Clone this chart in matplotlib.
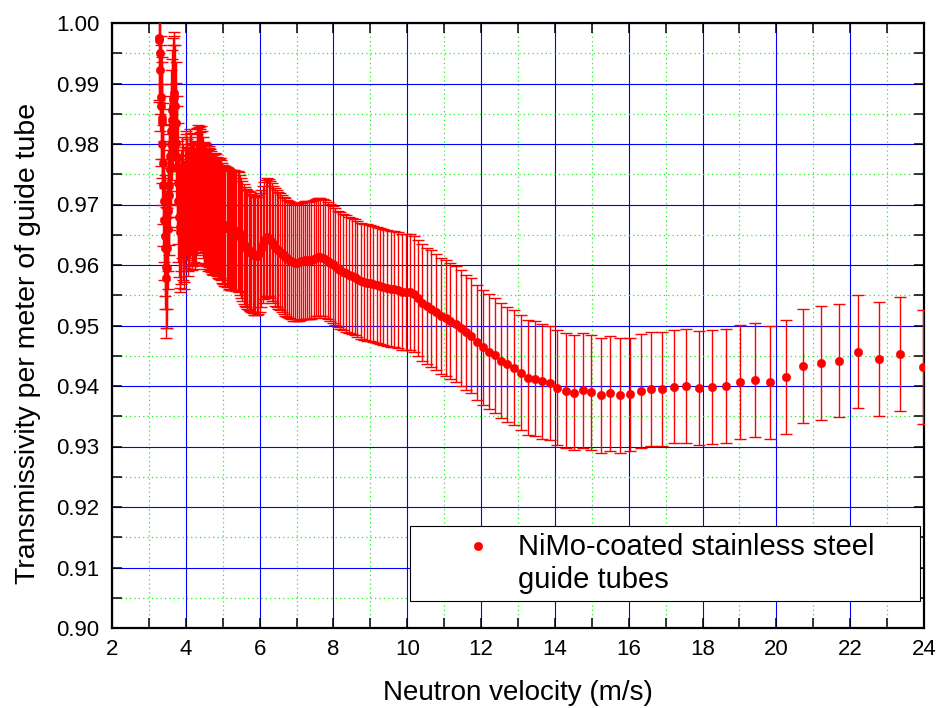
import matplotlib
matplotlib.use('Agg')
import matplotlib.pyplot as plt
from matplotlib.lines import Line2D
from matplotlib.ticker import MultipleLocator

plt.rcParams['font.family'] = ['Liberation Sans', 'DejaVu Sans']

# Neutron velocity (m/s), one value per time-of-flight bin
velocity = [
    3.272, 3.284, 3.295, 3.307, 3.319, 3.331, 3.343, 3.355, 3.368, 3.380, 3.392, 3.405, 3.418, 3.430, 3.443, 3.456,
    3.469, 3.482, 3.495, 3.509, 3.522, 3.536, 3.549, 3.563, 3.577, 3.591, 3.605, 3.619, 3.633, 3.648, 3.662, 3.677,
    3.692, 3.706, 3.722, 3.737, 3.752, 3.767, 3.783, 3.798, 3.814,
    3.830, 3.846, 3.862, 3.878, 3.895, 3.911, 3.928, 3.945, 3.962, 3.979, 3.996, 4.013, 4.031, 4.049, 4.067, 4.085,
    4.103, 4.121, 4.140, 4.158, 4.177, 4.196, 4.216, 4.235, 4.254, 4.274, 4.294, 4.314, 4.335, 4.355, 4.376, 4.397,
    4.418, 4.439, 4.461, 4.482, 4.504, 4.526, 4.549, 4.571, 4.594,
    4.617, 4.640, 4.664, 4.688, 4.712, 4.736, 4.760, 4.785, 4.810, 4.835, 4.861, 4.887, 4.913, 4.939, 4.966, 4.993,
    5.020, 5.047, 5.075, 5.103, 5.132, 5.160, 5.190, 5.219, 5.249, 5.279, 5.309, 5.340, 5.371, 5.403, 5.434, 5.467,
    5.500, 5.533, 5.566, 5.600, 5.634, 5.669, 5.704, 5.740, 5.775, 5.812, 5.849, 5.886, 5.924, 5.962, 6.001,
    6.041, 6.081, 6.121, 6.162, 6.203, 6.246, 6.288, 6.331, 6.375, 6.420, 6.465, 6.510, 6.557, 6.604, 6.652, 6.700,
    6.749, 6.799, 6.849, 6.901, 6.953, 7.006, 7.060, 7.114, 7.170, 7.226, 7.283, 7.341, 7.400, 7.460, 7.521, 7.583,
    7.646, 7.710, 7.775, 7.841, 7.908, 7.977, 8.046,
    8.118, 8.190, 8.263, 8.338, 8.414, 8.492, 8.571, 8.651, 8.734, 8.817, 8.902, 8.990, 9.078, 9.168, 9.260, 9.355,
    9.451, 9.548, 9.649, 9.750, 9.855, 9.960, 10.07, 10.18, 10.30, 10.41, 10.53, 10.65, 10.78, 10.91, 11.04, 11.17,
    11.31, 11.45,
    11.59, 11.74, 11.89, 12.05, 12.21, 12.37, 12.54, 12.71, 12.89, 13.07, 13.26, 13.46, 13.66, 13.86, 14.07, 14.29,
    14.52, 14.75, 14.99, 15.24, 15.49, 15.76, 16.03, 16.32, 16.61, 16.91, 17.23, 17.56, 17.90, 18.26, 18.63, 19.01,
    19.41, 19.83, 20.27, 20.72, 21.20, 21.70, 22.22, 22.77, 23.35, 23.96,
]

# Transmissivity per meter of guide tube
transmissivity = [
    0.9975, 0.9972, 0.9950, 0.9922, 0.9877, 0.9863, 0.9843, 0.9836, 0.9800, 0.9768, 0.9732, 0.9705, 0.9675, 0.9648, 0.9628, 0.9596,
    0.9578, 0.9595, 0.9628, 0.9660, 0.9690, 0.9716, 0.9733, 0.9758, 0.9780, 0.9800, 0.9822, 0.9840, 0.9856, 0.9862, 0.9875, 0.9884,
    0.9878, 0.9862, 0.9835, 0.9801, 0.9779, 0.9762, 0.9735, 0.9705, 0.9680,
    0.9662, 0.9655, 0.9668, 0.9690, 0.9712, 0.9700, 0.9676, 0.9660, 0.9672, 0.9695, 0.9716, 0.9722, 0.9708, 0.9690, 0.9682, 0.9694,
    0.9712, 0.9725, 0.9718, 0.9702, 0.9692, 0.9698, 0.9705, 0.9700, 0.9694, 0.9704, 0.9716, 0.9726, 0.9731, 0.9728, 0.9720, 0.9724,
    0.9729, 0.9722, 0.9712, 0.9704, 0.9700, 0.9702, 0.9698, 0.9693, 0.9690,
    0.9694, 0.9696, 0.9692, 0.9688, 0.9684, 0.9683, 0.9684, 0.9686, 0.9684, 0.9680, 0.9677, 0.9676, 0.9678, 0.9678, 0.9674, 0.9670,
    0.9667, 0.9665, 0.9664, 0.9663, 0.9662, 0.9660, 0.9658, 0.9657, 0.9657, 0.9658, 0.9658, 0.9657, 0.9656, 0.9656, 0.9654, 0.9650,
    0.9645, 0.9640, 0.9635, 0.9631, 0.9628, 0.9626, 0.9624, 0.9622, 0.9620, 0.9618, 0.9616, 0.9615, 0.9615, 0.9617, 0.9621,
    0.9627, 0.9634, 0.9640, 0.9644, 0.9646, 0.9645, 0.9642, 0.9638, 0.9634, 0.9630, 0.9627, 0.9624, 0.9622, 0.9619, 0.9616, 0.9613,
    0.9611, 0.9609, 0.9607, 0.9605, 0.9604, 0.9604, 0.9605, 0.9606, 0.9607, 0.9608, 0.9608, 0.9607, 0.9608, 0.9610, 0.9612, 0.9613,
    0.9613, 0.9612, 0.9610, 0.9607, 0.9604, 0.9601, 0.9598,
    0.9594, 0.9591, 0.9588, 0.9586, 0.9584, 0.9582, 0.9580, 0.9577, 0.9574, 0.9572, 0.9571, 0.9570, 0.9569, 0.9567, 0.9565, 0.9563,
    0.9562, 0.9561, 0.9560, 0.9558, 0.9556, 0.9556, 0.9555, 0.9552, 0.9545, 0.9538, 0.9532, 0.9528, 0.9522, 0.9516, 0.9512, 0.9507,
    0.9503, 0.9496,
    0.9489, 0.9483, 0.9472, 0.9464, 0.9457, 0.9451, 0.9442, 0.9436, 0.9430, 0.9422, 0.9414, 0.9412, 0.9408, 0.9405, 0.9397, 0.9392,
    0.9389, 0.9393, 0.9390, 0.9385, 0.9388, 0.9385, 0.9386, 0.9392, 0.9395, 0.9395, 0.9399, 0.9400, 0.9397, 0.9398, 0.9400, 0.9407,
    0.9410, 0.9406, 0.9415, 0.9433, 0.9438, 0.9442, 0.9457, 0.9445, 0.9453, 0.9431,
]

# Half-length of the error bars
uncertainty = [
    0.0102, 0.0102, 0.0101, 0.0101, 0.0101, 0.0100, 0.0100, 0.0100, 0.0100, 0.0100, 0.0100, 0.0100, 0.0100, 0.0100, 0.0100, 0.0100,
    0.0099, 0.0099, 0.0100, 0.0100, 0.0100, 0.0100, 0.0100, 0.0100, 0.0100, 0.0100, 0.0100, 0.0100, 0.0100, 0.0101, 0.0101, 0.0101,
    0.0101, 0.0101, 0.0100, 0.0100, 0.0100, 0.0100, 0.0100, 0.0100, 0.0100,
    0.0100, 0.0100, 0.0100, 0.0100, 0.0100, 0.0100, 0.0100, 0.0100, 0.0100, 0.0100, 0.0100, 0.0100, 0.0100, 0.0100, 0.0100, 0.0100,
    0.0100, 0.0100, 0.0100, 0.0100, 0.0100, 0.0100, 0.0100, 0.0100, 0.0100, 0.0100, 0.0100, 0.0100, 0.0100, 0.0100, 0.0100, 0.0100,
    0.0100, 0.0100, 0.0100, 0.0100, 0.0100, 0.0100, 0.0100, 0.0100, 0.0100,
    0.0100, 0.0100, 0.0100, 0.0100, 0.0099, 0.0099, 0.0099, 0.0099, 0.0099, 0.0099, 0.0099, 0.0099, 0.0099, 0.0099, 0.0099, 0.0099,
    0.0099, 0.0099, 0.0099, 0.0099, 0.0099, 0.0099, 0.0099, 0.0099, 0.0099, 0.0099, 0.0099, 0.0099, 0.0099, 0.0099, 0.0099, 0.0099,
    0.0099, 0.0099, 0.0099, 0.0098, 0.0098, 0.0098, 0.0098, 0.0098, 0.0098, 0.0098, 0.0098, 0.0098, 0.0098, 0.0098, 0.0098,
    0.0097, 0.0097, 0.0097, 0.0097, 0.0097, 0.0097, 0.0097, 0.0097, 0.0097, 0.0097, 0.0097, 0.0097, 0.0097, 0.0097, 0.0097, 0.0097,
    0.0097, 0.0097, 0.0097, 0.0097, 0.0097, 0.0097, 0.0097, 0.0097, 0.0097, 0.0097, 0.0097, 0.0097, 0.0097, 0.0097, 0.0097, 0.0097,
    0.0097, 0.0097, 0.0097, 0.0097, 0.0097, 0.0097, 0.0097,
    0.0096, 0.0096, 0.0096, 0.0096, 0.0096, 0.0096, 0.0096, 0.0096, 0.0096, 0.0096, 0.0096, 0.0096, 0.0096, 0.0096, 0.0096, 0.0096,
    0.0096, 0.0096, 0.0096, 0.0096, 0.0096, 0.0096, 0.0096, 0.0096, 0.0096, 0.0096, 0.0096, 0.0096, 0.0096, 0.0096, 0.0096, 0.0096,
    0.0096, 0.0096,
    0.0095, 0.0095, 0.0095, 0.0095, 0.0095, 0.0095, 0.0095, 0.0095, 0.0095, 0.0095, 0.0095, 0.0095, 0.0095, 0.0095, 0.0095, 0.0095,
    0.0095, 0.0095, 0.0095, 0.0095, 0.0095, 0.0095, 0.0094, 0.0094, 0.0094, 0.0094, 0.0094, 0.0094, 0.0094, 0.0094, 0.0094, 0.0094,
    0.0094, 0.0094, 0.0094, 0.0094, 0.0094, 0.0094, 0.0094, 0.0094, 0.0094, 0.0094,
]

x_ticks = [2, 4, 6, 8, 10, 12, 14, 16, 18, 20, 22, 24]
y_ticks = [0.90, 0.91, 0.92, 0.93, 0.94, 0.95, 0.96, 0.97, 0.98, 0.99, 1.00]
y_tick_labels = ['0.90', '0.91', '0.92', '0.93', '0.94', '0.95', '0.96', '0.97', '0.98', '0.99', '1.00']
x_label = 'Neutron velocity (m/s)'
y_label = 'Transmissivity per meter of guide tube'
series_label = 'NiMo-coated stainless steel\nguide tubes'

assert len(velocity) == len(transmissivity) == len(uncertainty)

RED = '#ff0000'

fig = plt.figure(figsize=(9.37, 7.08), dpi=100)
ax = fig.add_axes([112 / 937, 80 / 708, 812 / 937, 605 / 708])

data_line, cap_lines, bar_lines = ax.errorbar(
    velocity, transmissivity, yerr=uncertainty, fmt='o', color=RED, ecolor=RED,
    markersize=6.0, elinewidth=1.0, capsize=4.6, capthick=1.0, zorder=3)
data_line.set_markeredgewidth(0.4)

ax.set_xlim(2, 24)
ax.set_ylim(0.90, 1.00)
ax.set_xticks(x_ticks)
ax.set_xticklabels([str(t) for t in x_ticks])
ax.set_yticks(y_ticks)
ax.set_yticklabels(y_tick_labels)
ax.xaxis.set_minor_locator(MultipleLocator(1))
ax.yaxis.set_minor_locator(MultipleLocator(0.005))

ax.set_axisbelow(True)
ax.grid(which='major', color='#0000ff', lw=0.8, ls='-')
ax.grid(which='minor', color='#22ee22', lw=0.9, ls=(0, (1, 2.5)))

ax.tick_params(which='both', direction='in', top=True, right=True, length=7,
               width=1.1, color='black', labelsize=16)
ax.tick_params(axis='x', which='major', pad=8)
ax.tick_params(axis='y', which='major', pad=9)
for s in ax.spines.values():
    s.set_linewidth(1.6)

ax.set_xlabel(x_label, fontsize=20)
ax.xaxis.set_label_coords(0.5, -0.086)
ax.set_ylabel(y_label, fontsize=20.5)
ax.yaxis.set_label_coords(-0.0874, 0.47)

proxy = Line2D([], [], marker='o', ls='none', color=RED, markersize=6.0,
               markeredgewidth=0.4)
leg = ax.legend([proxy], [series_label], loc='upper left',
                bbox_to_anchor=(0.367, 0.0, 0.628, 0.1686), mode='expand',
                borderaxespad=0, borderpad=0.25, handlelength=4.16,
                handletextpad=-0.72, handleheight=1.25, fontsize=21,
                frameon=True, fancybox=False, edgecolor='black',
                framealpha=1, numpoints=1)
leg.get_frame().set_linewidth(0.8)
try:
    for col in leg._legend_handle_box.get_children():
        for item in col.get_children():
            item.align = 'top'
except Exception:
    pass

fig.savefig('out.png', dpi=100, facecolor='white')
